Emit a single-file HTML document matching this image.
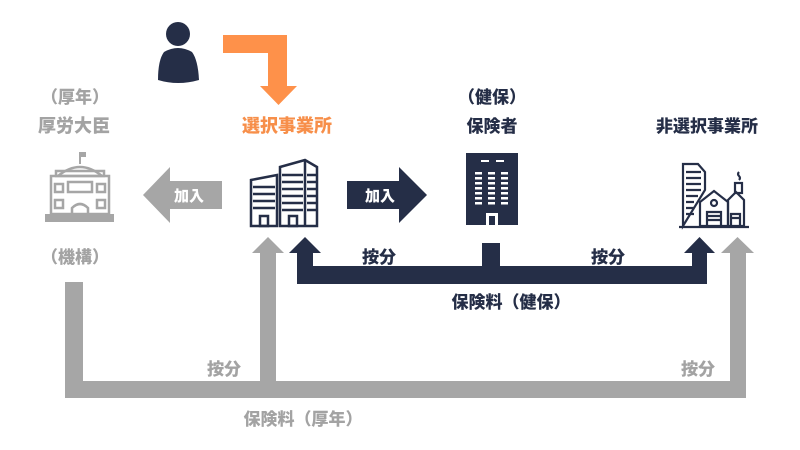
<!DOCTYPE html>
<html><head><meta charset="utf-8"><style>
body{margin:0;width:800px;height:450px;background:#fff;overflow:hidden;font-family:"Liberation Sans","Noto Sans CJK JP",sans-serif;font-weight:900}
.t{position:absolute;font-size:17px;white-space:nowrap;transform:translateX(-50%)}
.g{color:#a3a3a3}.d{color:#252e47}.o{color:#f78f4a}
</style></head><body>
<svg width="800" height="450" style="position:absolute;left:0;top:0">
<g fill="#a6a6a6">
<rect x="65" y="282" width="18" height="116"/>
<rect x="65" y="381" width="681" height="17"/>
<rect x="260" y="252" width="16" height="130"/>
<polygon points="252,253 268,237 284,253"/>
<rect x="730" y="252" width="16" height="130"/>
<polygon points="721,253 737.5,237 754,253"/>
<polygon points="222,181 222,209 170,209 170,223 143,195 170,167 170,181"/>
</g>
<g fill="#252e47">
<rect x="297" y="266" width="410" height="18"/>
<rect x="297" y="252" width="16" height="20"/>
<polygon points="289,253 305,237 321,253"/>
<rect x="692" y="252" width="15" height="20"/>
<polygon points="684,253 699.5,237 715,253"/>
<rect x="482" y="243" width="18" height="25"/>
<polygon points="347,181 399,181 399,167 427,195 399,223 399,209 347,209"/>
<circle cx="178" cy="34" r="12"/>
<path d="M164,52 Q178,44 192,52 Q198,60 199,80 Q178,86 158,80 Q158,60 164,52Z"/>
<rect x="466" y="153" width="52" height="72"/>
</g>
<g fill="#fff">
<rect x="481" y="160" width="8" height="2"/><rect x="496" y="160" width="8" height="2"/>
<g id="rw"><rect x="475" y="172" width="7" height="2.5"/><rect x="488" y="172" width="7" height="2.5"/><rect x="501" y="172" width="7" height="2.5"/></g>
<use href="#rw" y="5"/><use href="#rw" y="10"/><use href="#rw" y="15"/><use href="#rw" y="20"/><use href="#rw" y="25"/><use href="#rw" y="30"/>
<rect x="486" y="213" width="12" height="12"/>
</g>
<rect x="489" y="216" width="6" height="9" fill="#252e47"/>
<g fill="#fe914a">
<rect x="223" y="35" width="64" height="18"/>
<rect x="268" y="35" width="19" height="52"/>
<polygon points="260,86 297,86 278.5,105"/>
</g>
<g fill="none" stroke="#252e47" stroke-width="2.5">
<polygon points="251,180 277,175 277,226 251,226"/>
<polygon points="280,167 305,160 317,167 317,226 280,226"/>
<line x1="305" y1="160" x2="305" y2="226"/>
<path d="M253,187h22M253,194h22M253,201h22M253,208h22M282,175h21M282,182h21M282,189h21M282,196h21M282,203h21M282,210h21M307,175h9M307,182h9M307,189h9M307,196h9M307,203h9M307,210h9"/>
<rect x="260" y="216" width="8" height="10"/><rect x="289" y="216" width="8" height="10"/>
</g>
<g fill="none" stroke="#a6a6a6" stroke-width="2.5">
<rect x="51" y="176" width="58" height="38"/>
<path d="M58,176 Q80,158 102,176"/>
<rect x="56" y="171" width="48" height="5"/>
<rect x="68" y="182" width="24" height="10"/>
<path d="M72,222 v-14 q8,-8 16,0 v14"/>
<rect x="55" y="184" width="8" height="8"/><rect x="97" y="184" width="8" height="8"/>
<rect x="55" y="200" width="8" height="8"/><rect x="97" y="200" width="8" height="8"/>
</g>
<g fill="#a6a6a6"><rect x="45" y="214" width="69" height="8"/><rect x="79" y="152" width="2" height="12"/><rect x="80" y="152" width="6" height="5"/></g>
<g fill="none" stroke="#252e47" stroke-width="2.2">
<polygon points="683,226 683,164 698,164 705,172 705,190"/>
<path d="M686,172h15M686,178h15M686,184h15M686,190h15M686,196h12M686,202h8M686,208h8M686,214h8"/>
<polygon points="700,226 700,202 714,191 728,202 728,226"/>
<polygon points="728,200 736,192 744,200 744,226 728,226"/>
<rect x="735" y="183" width="7" height="10"/>
<circle cx="714" cy="203" r="3"/>
<path d="M707,226v-14h14v14M707,216h14M707,220h14M731,226v-12h9v12M731,218h9"/>
<line x1="679" y1="227" x2="749" y2="227"/>
<path d="M739,172q-2,2 0,4q2,2 0,4"/>
</g>
</svg>
<div class="t g" style="left:75px;top:83px">（厚年）</div>
<div class="t g" style="left:74px;top:112px;font-size:18px">厚労大臣</div>
<div class="t g" style="left:75px;top:243px">（機構）</div>
<div class="t o" style="left:287px;top:112px;font-size:18px">選択事業所</div>
<div class="t d" style="left:492px;top:83px">（健保）</div>
<div class="t d" style="left:492px;top:112px">保険者</div>
<div class="t d" style="left:707px;top:112px">非選択事業所</div>
<div class="t" style="left:189px;top:185px;color:#fff;font-size:15px">加入</div>
<div class="t" style="left:380px;top:185px;color:#fff;font-size:15px">加入</div>
<div class="t d" style="left:379px;top:243px">按分</div>
<div class="t d" style="left:608px;top:243px">按分</div>
<div class="t d" style="left:511px;top:288px">保険料（健保）</div>
<div class="t g" style="left:224px;top:355px">按分</div>
<div class="t g" style="left:698px;top:355px">按分</div>
<div class="t g" style="left:303px;top:405px">保険料（厚年）</div>
</body></html>
